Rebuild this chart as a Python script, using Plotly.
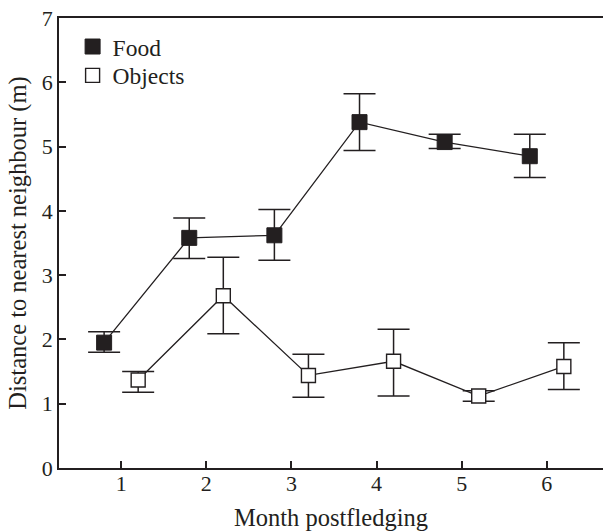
import plotly.graph_objects as go

# Month postfledging
months = [1, 2, 3, 4, 5, 6]

# Food trials: mean distance (m) with upper / lower error limits
food_mean = [1.95, 3.58, 3.62, 5.38, 5.07, 4.85]
food_upper = [2.12, 3.89, 4.02, 5.82, 5.19, 5.19]
food_lower = [1.80, 3.26, 3.23, 4.94, 4.97, 4.52]

# Object trials: mean distance (m) with upper / lower error limits
obj_mean = [1.37, 2.68, 1.44, 1.66, 1.12, 1.58]
obj_upper = [1.50, 3.28, 1.77, 2.16, 1.20, 1.95]
obj_lower = [1.18, 2.09, 1.10, 1.12, 1.04, 1.22]

y_ticks = [0, 1, 2, 3, 4, 5, 6, 7]

INK = "#231f20"
FONT = "Liberation Serif"
SHIFT = 0.2  # horizontal dodge between the two series

food_x = [m - SHIFT for m in months]
obj_x = [m + SHIFT for m in months]


def errs(mean, upper, lower):
    plus = [u - m for u, m in zip(upper, mean)]
    minus = [m - l for m, l in zip(mean, lower)]
    return dict(type="data", symmetric=False, array=plus, arrayminus=minus,
                color=INK, thickness=1.5, width=16)


fig = go.Figure()

# connecting lines first, so every marker sits on top of them
for xs, ys in ((food_x, food_mean), (obj_x, obj_mean)):
    fig.add_trace(go.Scatter(x=xs, y=ys, mode="lines", showlegend=False,
                             hoverinfo="skip",
                             line=dict(color=INK, width=1.3)))

fig.add_trace(go.Scatter(
    x=food_x, y=food_mean, name="Food", mode="markers", legend="legend",
    marker=dict(symbol="square", size=15, color=INK,
                line=dict(color=INK, width=1)),
    error_y=errs(food_mean, food_upper, food_lower),
))

fig.add_trace(go.Scatter(
    x=obj_x, y=obj_mean, name="Objects", mode="markers", legend="legend2",
    marker=dict(symbol="square", size=14, color="white",
                line=dict(color=INK, width=1.4)),
    error_y=errs(obj_mean, obj_upper, obj_lower),
))

legend_style = dict(x=0.025, xanchor="left", yanchor="top",
                    bgcolor="rgba(0,0,0,0)", font=dict(size=23.5),
                    itemsizing="trace")

fig.update_layout(
    width=603, height=531,
    margin=dict(l=59, r=0, t=18, b=63),
    paper_bgcolor="white", plot_bgcolor="white",
    font=dict(family=FONT, size=22, color=INK),
    showlegend=True,
    legend=dict(y=0.985, **legend_style),
    legend2=dict(y=0.921, **legend_style),
)

fig.update_xaxes(
    range=[0.27, 6.66], tickvals=months, ticktext=[str(m) for m in months],
    ticks="inside", ticklen=7, tickwidth=1.5, tickcolor=INK,
    ticklabelstandoff=-5,
    showline=True, linewidth=1.5, linecolor=INK, mirror=True,
    showgrid=False, zeroline=False,
    title=dict(text="Month postfledging", standoff=17, font=dict(size=24.5)),
)

fig.update_yaxes(
    range=[0, 7], tickvals=y_ticks, ticktext=[str(v) for v in y_ticks],
    ticks="inside", ticklen=7, tickwidth=1.5, tickcolor=INK,
    showline=True, linewidth=1.5, linecolor=INK,
    showgrid=False, zeroline=False,
    title=dict(text="Distance to nearest neighbour (m)", standoff=8,
               font=dict(size=24.5)),
)

fig.write_html("out.html")
